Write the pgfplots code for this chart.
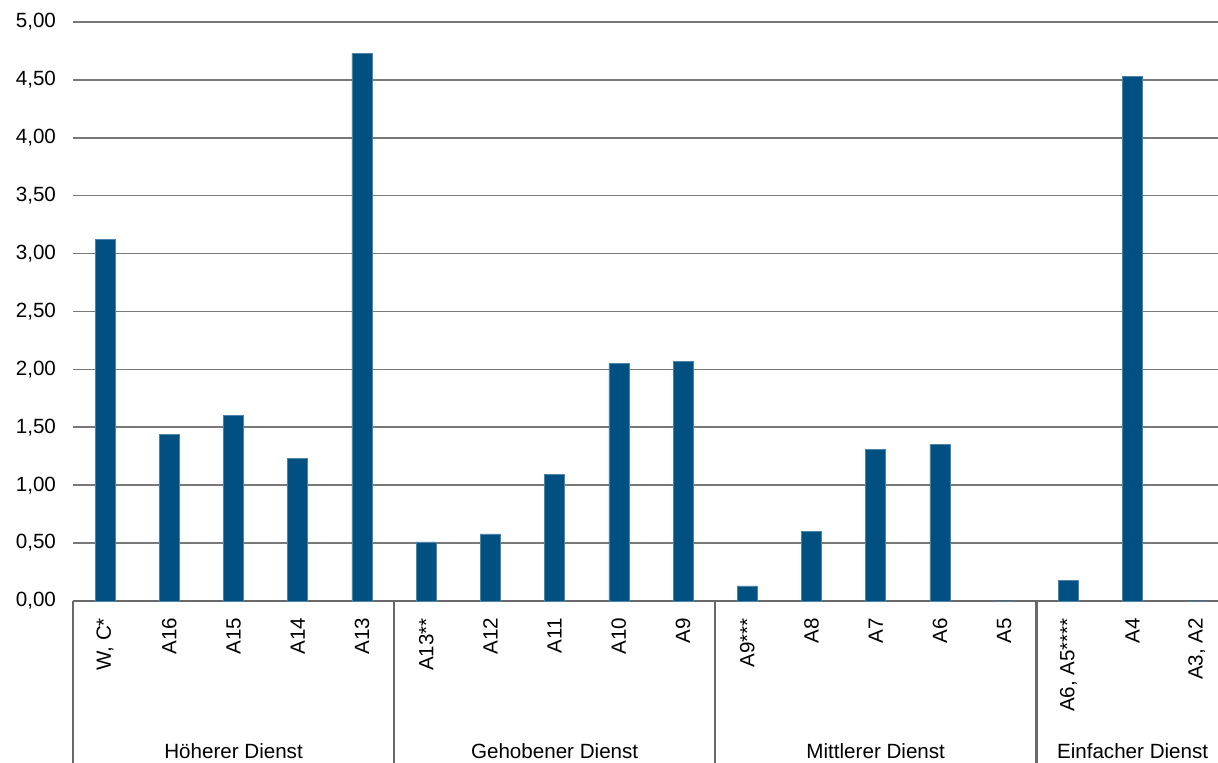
\documentclass[border=0pt]{standalone}
\usepackage{pgfplots}
\pgfplotsset{compat=1.18}
\usepackage{fontspec}
\setmainfont{Liberation Sans}
\definecolor{barblue}{RGB}{0,80,130}
\definecolor{gridgray}{RGB}{120,120,120}
\definecolor{axisgray}{RGB}{105,105,105}

\begin{document}
\begin{tikzpicture}
\begin{axis}[
  scale only axis,
  width=572.5pt, height=289.5pt,
  xmin=-0.5, xmax=17.33,
  ymin=0, ymax=5,
  ytick={0,0.5,...,5},
  xtick={0,...,17},
  xticklabels={{W, C*},A16,A15,A14,A13,A13**,A12,A11,A10,A9,A9***,A8,A7,A6,A5,{A6, A5****},A4,{A3, A2}},
  x tick label style={rotate=90, anchor=east},
  xticklabel shift=5pt,
  yticklabel shift=5pt,
  major tick length=0pt,
  ymajorgrids,
  grid style={gridgray, line width=0.8pt},
  axis x line*=bottom,
  axis y line*=left,
  y axis line style={draw=none},
  x axis line style={axisgray, line width=1.3pt, -},
  yticklabel style={/pgf/number format/.cd, fixed, fixed zerofill, precision=2, use comma},
  /pgf/number format/assume math mode=true,
  ticklabel style={font=\fontsize{10.3}{12}\selectfont},
  tick style={draw=none},
  clip=false,
]
\addplot[ybar, bar width=10pt, fill=barblue, draw=barblue!70!white, line width=0.3pt]
  coordinates {(0,3.12) (1,1.44) (2,1.60) (3,1.23) (4,4.73)
               (5,0.51) (6,0.58) (7,1.09) (8,2.05) (9,2.07)
               (10,0.13) (11,0.60) (12,1.31) (13,1.35) (14,0)
               (15,0.18) (16,4.53) (17,0)};
\draw[axisgray, line width=1.3pt] (axis cs:-0.5,0) -- ++(0pt,-90pt);
\draw[axisgray, line width=1.3pt] (axis cs:4.5,0) -- ++(0pt,-90pt);
\draw[axisgray, line width=1.3pt] (axis cs:9.5,0) -- ++(0pt,-90pt);
\draw[axisgray, line width=1.3pt] (axis cs:14.5,0) -- ++(0pt,-90pt);
\node[font=\fontsize{10.3}{12}\selectfont] at (axis cs:2,0) [yshift=-75pt] {Höherer Dienst};
\node[font=\fontsize{10.3}{12}\selectfont] at (axis cs:7,0) [yshift=-75pt] {Gehobener Dienst};
\node[font=\fontsize{10.3}{12}\selectfont] at (axis cs:12,0) [yshift=-75pt] {Mittlerer Dienst};
\node[font=\fontsize{10.3}{12}\selectfont] at (axis cs:16,0) [yshift=-75pt] {Einfacher Dienst};
\coordinate (bbsw) at (rel axis cs:0,0);
\coordinate (bbne) at (rel axis cs:1,1);
\end{axis}
\pgfresetboundingbox
\path ([xshift=-36.5pt, yshift=-81pt]bbsw) rectangle ([yshift=11pt]bbne);
\end{tikzpicture}
\end{document}
